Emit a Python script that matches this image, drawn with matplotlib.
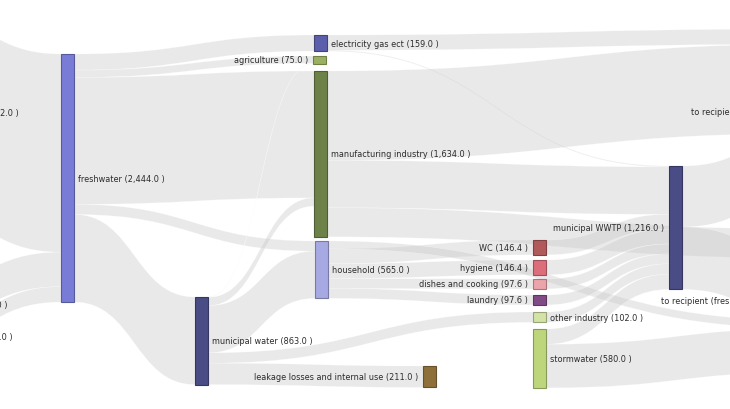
import matplotlib.pyplot as plt
from matplotlib.path import Path
from matplotlib.patches import PathPatch, Rectangle

# nodes: name, value shown in label
node_names = ['surface water', 'groundwater', 'bank filtration',
              'freshwater', 'municipal water',
              'electricity gas ect', 'agriculture', 'manufacturing industry', 'household',
              'leakage losses and internal use',
              'WC', 'hygiene', 'dishes and cooking', 'laundry', 'other industry', 'stormwater',
              'municipal WWTP',
              'to recipient (sea)', 'to recipient (freshwater)']
node_values = [1952.0, 340.0, 152.0,
               2444.0, 863.0,
               159.0, 75.0, 1634.0, 565.0,
               211.0,
               146.4, 146.4, 97.6, 97.6, 102.0, 580.0,
               1216.0,
               1630.0, 1410.0]
node_colors = ['#6f9fd0', '#5c84b8', '#8fb0d8',
               '#787cd6', '#4a4d85',
               '#5b5eaa', '#9cb062', '#6c8249', '#a7a9e2',
               '#8f6f3a',
               '#b15a5c', '#dc6e7b', '#eca4ab', '#814c86', '#d3e3a6', '#bdd67c',
               '#4a4d85',
               '#3d7fb0', '#3d7fb0']

# links: source, target, value
link_src = ['surface water', 'groundwater', 'bank filtration',
            'freshwater', 'freshwater', 'freshwater', 'freshwater', 'freshwater',
            'municipal water', 'municipal water', 'municipal water', 'municipal water', 'municipal water',
            'household', 'household', 'household', 'household', 'household',
            'electricity gas ect', 'electricity gas ect',
            'manufacturing industry', 'manufacturing industry', 'manufacturing industry',
            'WC', 'hygiene', 'dishes and cooking', 'laundry', 'other industry',
            'stormwater', 'stormwater',
            'municipal WWTP', 'municipal WWTP']
link_tgt = ['freshwater', 'freshwater', 'freshwater',
            'electricity gas ect', 'agriculture', 'manufacturing industry', 'household', 'municipal water',
            'agriculture', 'manufacturing industry', 'household', 'other industry',
            'leakage losses and internal use',
            'WC', 'hygiene', 'dishes and cooking', 'laundry', 'to recipient (freshwater)',
            'to recipient (sea)', 'municipal WWTP',
            'to recipient (sea)', 'municipal WWTP', 'to recipient (freshwater)',
            'municipal WWTP', 'municipal WWTP', 'municipal WWTP', 'municipal WWTP', 'municipal WWTP',
            'municipal WWTP', 'to recipient (freshwater)',
            'to recipient (sea)', 'to recipient (freshwater)']
link_values = [1952, 340, 152,
               159, 72, 1250, 100, 863,
               3, 82, 465, 102, 211,
               146.4, 146.4, 97.6, 97.6, 77,
               150, 9,
               880, 467, 287,
               146.4, 146.4, 97.6, 97.6, 102,
               150, 430,
               600, 616]

# layout (pixels): node left edge, node top, label side
node_x = [-97, -97, -97, 61, 195, 314, 313, 314, 315, 423,
          533, 533, 533, 533, 533, 533, 669, 809, 809]
node_top = [14, 288, 330, 55, 298, 36, 57, 72, 242, 367,
            241, 261, 280, 296, 313, 330, 167, 30, 230]
label_side = ['r', 'r', 'r', 'r', 'r', 'r', 'l', 'r', 'r', 'l',
              'l', 'l', 'l', 'l', 'r', 'r', 'l', 'l', 'l']

k = 0.1015   # px per unit
nw = 13      # node width

idx = {n: i for i, n in enumerate(node_names)}
heights = [v * k for v in node_values]

fig = plt.figure(figsize=(7.3, 4.1), dpi=100)
ax = fig.add_axes([0, 0, 1, 1])
ax.set_xlim(0, 730)
ax.set_ylim(410, 0)
ax.axis('off')

# stack links on each node like d3-sankey does
out_off = {}
in_off = {}
for i in range(len(node_names)):
    outs = [j for j in range(len(link_src)) if idx[link_src[j]] == i]
    outs.sort(key=lambda j: node_top[idx[link_tgt[j]]])
    y = node_top[i]
    for j in outs:
        out_off[j] = y
        y += link_values[j] * k
    ins = [j for j in range(len(link_tgt)) if idx[link_tgt[j]] == i]
    ins.sort(key=lambda j: node_top[idx[link_src[j]]])
    y = node_top[i]
    for j in ins:
        in_off[j] = y
        y += link_values[j] * k

for j in range(len(link_src)):
    s = idx[link_src[j]]
    t = idx[link_tgt[j]]
    w = link_values[j] * k
    x0 = node_x[s] + nw
    x1 = node_x[t]
    y0 = out_off[j]
    y1 = in_off[j]
    xm = (x0 + x1) / 2
    verts = [(x0, y0), (xm, y0), (xm, y1), (x1, y1),
             (x1, y1 + w),
             (xm, y1 + w), (xm, y0 + w), (x0, y0 + w),
             (x0, y0)]
    codes = [Path.MOVETO, Path.CURVE4, Path.CURVE4, Path.CURVE4,
             Path.LINETO,
             Path.CURVE4, Path.CURVE4, Path.CURVE4,
             Path.CLOSEPOLY]
    ax.add_patch(PathPatch(Path(verts, codes), facecolor='#cccccc', alpha=0.42,
                           edgecolor='white', lw=0.35))


def darker(c, f=0.72):
    r, g, b = int(c[1:3], 16), int(c[3:5], 16), int(c[5:7], 16)
    return (r * f / 255, g * f / 255, b * f / 255)


for i, name in enumerate(node_names):
    ax.add_patch(Rectangle((node_x[i], node_top[i]), nw, heights[i],
                           facecolor=node_colors[i], edgecolor=darker(node_colors[i]), lw=0.8))
    txt = f'{name} ({node_values[i]:,.1f} )'
    cy = node_top[i] + heights[i] / 2
    if label_side[i] == 'r':
        ax.text(node_x[i] + nw + 4, cy, txt, ha='left', va='center',
                fontsize=5.9, color='#2b2b2b')
    else:
        ax.text(node_x[i] - 5, cy, txt, ha='right', va='center',
                fontsize=5.9, color='#2b2b2b')

fig.savefig('out.png', dpi=100)
